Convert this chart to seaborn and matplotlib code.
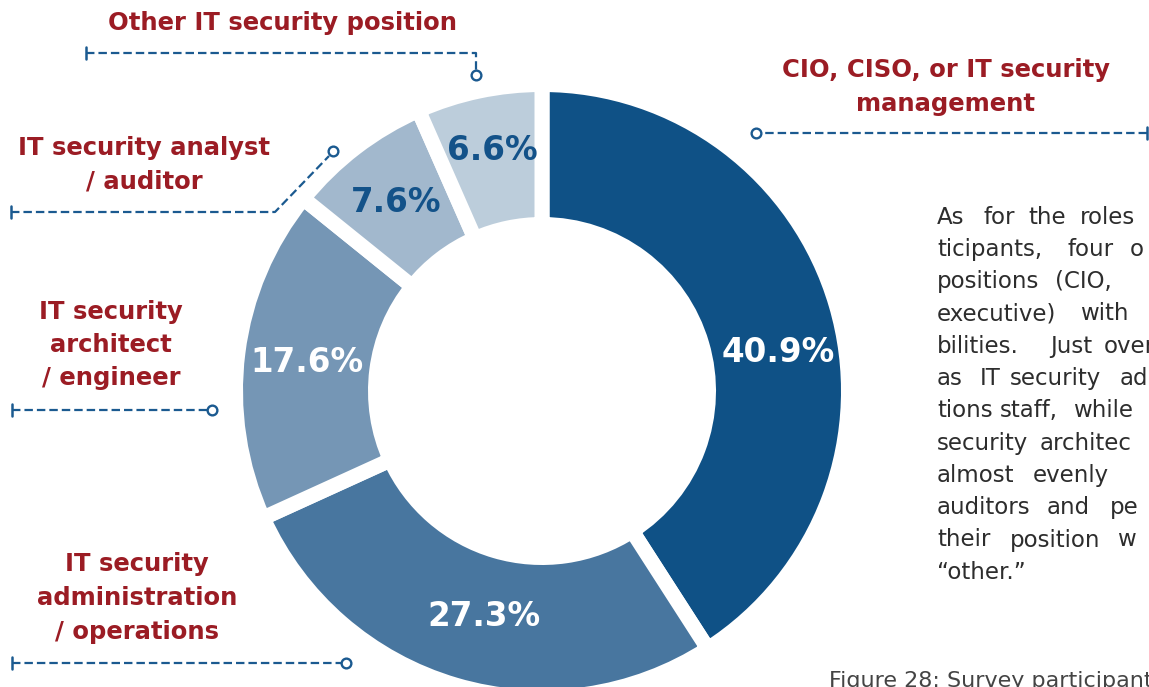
import matplotlib
matplotlib.use("Agg")
import matplotlib.pyplot as plt
import seaborn as sns

# chart data
roles = ["CIO, CISO, or IT security\nmanagement",
         "IT security\nadministration\n/ operations",
         "IT security\narchitect\n/ engineer",
         "IT security analyst\n/ auditor",
         "Other IT security position"]
shares = [40.9, 27.3, 17.6, 7.6, 6.6]
pct_labels = ["40.9%", "27.3%", "17.6%", "7.6%", "6.6%"]

# figure is laid out in pixel units, y measured from the top
W, H = 1149, 687
def Y(y):
    return H - y

wedge_colors = sns.color_palette(["#0f5186", "#48769f", "#7596b5", "#a2b8cd", "#bccddb"])
pct_colors = ["white", "white", "white", "#135289", "#135289"]
pct_pos = [(778, 352), (484, 616), (307, 363), (396, 202), (492, 151)]
role_pos = [(946, 87), (137, 598), (111, 345), (144, 165), (282, 23)]

RED = "#9b1c24"
LINE = "#1b5a90"

# leader lines: (tick end, path points, circle)
leaders = [
    [(1147, 133), (761, 133), (756, 133)],
    [(12, 663), (341, 663), (346, 663)],
    [(12, 410), (207, 410), (212, 410)],
    [(11, 212), (275, 212), (329, 156), (333, 151)],
    [(86, 53), (476, 53), (476, 70), (476, 75)],
]

paragraph = [
    ("As for the roles", [937, 983, 1028, 1080]),
    ("ticipants, four o", [937, 1068, 1130]),
    ("positions (CIO,", [937, 1055]),
    ("executive) with", [937, 1080]),
    ("bilities. Just over", [937, 1050, 1104]),
    ("as IT security ad", [937, 980, 1010, 1120]),
    ("tions staff, while", [937, 1000, 1073]),
    ("security architec", [937, 1040]),
    ("almost evenly", [937, 1033]),
    ("auditors and pe", [937, 1047, 1110]),
    ("their position w", [937, 1010, 1117]),
    ("\u201cother.\u201d", [937]),
]
caption = "Figure 28: Survey participants"

sns.set_theme(style="white")
plt.rcParams["font.family"] = ["DejaVu Sans"]

fig = plt.figure(figsize=(W / 100, H / 100), dpi=100)
ax = fig.add_axes([0, 0, 1, 1])

ax.pie(shares, colors=wedge_colors, startangle=90, counterclock=False,
       radius=306.5, center=(542, Y(391)), frame=True,
       wedgeprops=dict(width=140, edgecolor="white", linewidth=10.8))

for txt, (x, y), c in zip(pct_labels, pct_pos, pct_colors):
    ax.text(x, Y(y), txt, ha="center", va="center", color=c,
            fontsize=23.5, fontweight="bold")

for txt, (x, y) in zip(roles, role_pos):
    ax.text(x, Y(y), txt, ha="center", va="center", color=RED,
            fontsize=17.5, fontweight="bold", linespacing=1.5)

for pts in leaders:
    path = pts[:-1]
    xs = [p[0] for p in path]
    ys = [Y(p[1]) for p in path]
    ax.plot(xs, ys, color=LINE, lw=1.6, dashes=(3.8, 1.8), zorder=3)
    tx, ty = pts[0]
    ax.plot([tx, tx], [Y(ty - 6), Y(ty + 6)], color=LINE, lw=1.8, zorder=3)
    cx, cy = pts[-1]
    ax.plot([cx], [Y(cy)], marker="o", ms=7, mfc="white", mec=LINE,
            mew=1.7, zorder=4)

for i, (line, xs) in enumerate(paragraph):
    y = 217 + i * 32.3
    for word, x in zip(line.split(" "), xs):
        ax.text(x, Y(y), word, ha="left", va="center", color="#2d2d2d",
                fontsize=16.5)

ax.text(829, Y(671), caption, ha="left", va="top", color="#444444", fontsize=16)

ax.set_xlim(0, W)
ax.set_ylim(0, H)
ax.set_aspect("equal")
ax.axis("off")

fig.savefig("out.png", dpi=100)
